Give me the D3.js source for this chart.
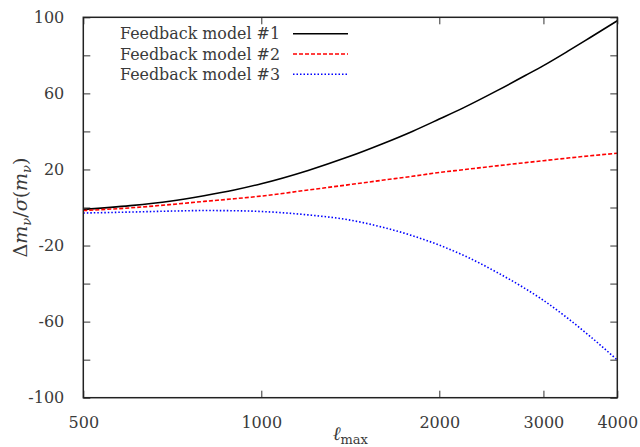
<!DOCTYPE html>
<html><head><meta charset="utf-8">
<script src="https://cdn.jsdelivr.net/npm/d3@7"></script>
<style>
html,body{margin:0;padding:0;background:#fff;}
</style></head>
<body><svg id="c" width="640" height="447"></svg>
<script>
const ell = [500,600,700,800,900,1000,1200,1400,1600,1800,2000,2200,2500,2800,3000,3300,3600,4000];
const model1 = [-1.0,1.0,3.3,6.2,9.2,12.5,19.5,26.5,33.4,40.0,46.5,52.5,61.3,69.5,74.6,82.2,89.4,98.2];
const model2 = [-1.6,-0.2,1.5,3.2,4.6,6.0,9.2,11.9,14.3,16.4,18.4,19.9,21.9,23.6,24.6,26.0,27.2,28.5];
const model3 = [-2.9,-2.4,-1.9,-1.6,-1.7,-2.1,-3.9,-6.4,-10.3,-14.8,-19.8,-25.2,-34.0,-42.8,-48.8,-58.3,-67.8,-80.2];
const seriesNames = ["Feedback model #1","Feedback model #2","Feedback model #3"];
const xTicks = [500,1000,2000,3000,4000];
const yTicks = [-100,-80,-60,-40,-20,0,20,40,60,80,100];
const yLabels = [-100,-60,-20,20,60,100];

const FONT = "DejaVu Serif";
const svg = d3.select("#c").attr("font-family",FONT);
const L=83.3,R=617.3,T=17.3,B=397.7;
const x = d3.scaleLog().domain([500,4000]).range([L,R]);
const y = d3.scaleLinear().domain([-100,100]).range([B,T]);

const series = [
  {name:seriesNames[0], vals:model1, color:"#000", dash:null, w:1.6},
  {name:seriesNames[1], vals:model2, color:"#ff0000", dash:"4,2", w:1.6},
  {name:seriesNames[2], vals:model3, color:"#0000ff", dash:"1.5,2", w:1.6}
];

const tl = 7;
function style(g){
  g.attr("font-family",FONT);
  g.select(".domain").remove();
  g.selectAll("line").attr("stroke","#333").attr("stroke-width",1);
  g.selectAll("text").attr("font-size",16).attr("fill","#3a3a3a").attr("font-family",FONT);
}
svg.append("g").attr("transform",`translate(0,${B})`)
  .call(d3.axisBottom(x).tickValues(xTicks).tickSize(-tl).tickPadding(12+tl).tickFormat(d3.format("d")))
  .call(style);
svg.append("g").attr("transform",`translate(0,${T})`)
  .call(d3.axisTop(x).tickValues(xTicks).tickSize(-tl).tickFormat(""))
  .call(style);
svg.append("g").attr("transform",`translate(${L},0)`)
  .call(d3.axisLeft(y).tickValues(yTicks).tickSize(-tl).tickPadding(12+tl)
    .tickFormat(d=>yLabels.includes(d)?String(d):""))
  .call(style);
svg.append("g").attr("transform",`translate(${R},0)`)
  .call(d3.axisRight(y).tickValues(yTicks).tickSize(-tl).tickFormat(""))
  .call(style);

const line = d3.line().curve(d3.curveMonotoneX);
series.forEach(s=>{
  svg.append("path")
    .attr("d", line(ell.map((l,i)=>[x(l), y(s.vals[i])])))
    .attr("fill","none").attr("stroke",s.color).attr("stroke-width",s.w)
    .attr("stroke-dasharray",s.dash);
});

svg.append("rect").attr("x",L).attr("y",T).attr("width",R-L).attr("height",B-T)
  .attr("fill","none").attr("stroke","#222").attr("stroke-width",1.5);

series.forEach((s,i)=>{
  const yy = 33.7 + i*20.3;
  svg.append("text").attr("x",280).attr("y",yy+5.5).attr("text-anchor","end")
    .attr("font-size",16).attr("fill","#3a3a3a").attr("font-family",FONT)
    .attr("textLength",160).attr("lengthAdjust","spacingAndGlyphs").text(s.name);
  svg.append("line").attr("x1",293).attr("x2",348).attr("y1",yy).attr("y2",yy)
    .attr("stroke",s.color).attr("stroke-width",s.w).attr("stroke-dasharray",s.dash);
});

const xt = svg.append("text").attr("x",(L+R)/2).attr("y",440).attr("text-anchor","middle")
  .attr("font-size",19).attr("fill","#3a3a3a").attr("font-family",FONT);
xt.append("tspan").attr("font-style","italic").text("ℓ");
xt.append("tspan").attr("font-size",13).attr("dy",4).text("max");

const yt = svg.append("text").attr("transform",`translate(27,${(T+B)/2}) rotate(-90)`)
  .attr("text-anchor","middle").attr("font-size",19).attr("fill","#3a3a3a").attr("font-family",FONT);
yt.append("tspan").text("Δ");
yt.append("tspan").attr("font-style","italic").text("m");
yt.append("tspan").attr("font-style","italic").attr("font-size",13).attr("dy",4).text("ν");
yt.append("tspan").attr("dy",-4).text("/");
yt.append("tspan").attr("font-style","italic").text("σ");
yt.append("tspan").text("(");
yt.append("tspan").attr("font-style","italic").text("m");
yt.append("tspan").attr("font-style","italic").attr("font-size",13).attr("dy",4).text("ν");
yt.append("tspan").attr("dy",-4).text(")");
</script></body></html>
